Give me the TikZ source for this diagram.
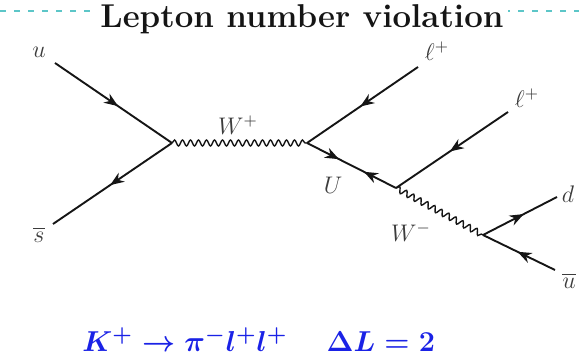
\documentclass[tikz,border=0pt]{standalone}
\usepackage{tikz}
\usepackage{xcolor}
\usepackage{amsmath}
\usetikzlibrary{
  arrows.meta, decorations.pathmorphing, decorations.markings
}
\definecolor{ink}{HTML}{151515}
\definecolor{muted}{HTML}{3C3C3C}
\definecolor{eqblue}{HTML}{1A22E6}
\definecolor{slide}{HTML}{5CC6C8}
\tikzset{
  >={Stealth[length=7pt, width=5.4pt]},
  %
  fermion/.style={
    draw=ink, line width=0.95pt, postaction={decorate},
    decoration={markings, mark=at position #1 with {\arrow{>}}},
  },
  fermion/.default=0.55,
  majorana/.style={
    draw=ink, line width=0.95pt, postaction={decorate},
    decoration={markings,
      mark=at position 0.36 with {\arrow{>}},
      mark=at position 0.64 with {\arrowreversed{>}}},
  },
  boson/.style={
    draw=ink, line width=0.7pt, decorate,
    decoration={snake, amplitude=1.5pt, segment length=4pt},
  },
  %
  lbl/.style={font=\fontsize{12}{14}\selectfont, text=muted, inner sep=1pt},
  heading/.style={font=\fontsize{16.5}{19}\selectfont\bfseries, text=ink,
                  fill=white, inner sep=2pt},
  eqn/.style={font=\fontsize{15}{18}\selectfont\boldmath, text=eqblue,
              inner sep=0pt},
  slideline/.style={draw=slide, line width=0.7pt, dash pattern=on 3pt off 4pt},
}

\begin{document}
\begin{tikzpicture}[x=0.5pt, y=-0.5pt]
\useasboundingbox (0,0) rectangle (579,357);

% =========================================================================
% header
% =========================================================================
\draw[slideline] (0,11) -- (579,11);
\node[heading, anchor=base] (title) at (302,28) {Lepton number violation};

% =========================================================================
% vertices and external legs
% =========================================================================
\coordinate (v1) at (172,143);
\coordinate (v2) at (307,143);
\coordinate (v3) at (396,188);
\coordinate (v4) at (483,235);

\coordinate (uin)  at (55,63);
\coordinate (sbar) at (53,224);
\coordinate (la)   at (418,67);
\coordinate (lb)   at (508,112);
\coordinate (dout) at (557,197);
\coordinate (ubar) at (555,270);

% quark lines
\draw[fermion=0.54] (uin) -- (v1);
\draw[fermion=0.52] (v1) -- (sbar);

% W bosons
\draw[boson] (v1) -- (v2);
\draw[boson] (v3) -- (v4);

% leptons and the neutrino-like line
\draw[fermion=0.52] (la) -- (v2);
\draw[majorana] (v2) -- (v3);
\draw[fermion=0.52] (lb) -- (v3);

% outgoing quarks
\draw[fermion=0.55] (v4) -- (dout);
\draw[fermion=0.52] (ubar) -- (v4);

% labels
\node[lbl] (ulbl)  at (39,52)   {$u$};
\node[lbl] (slbl)  at (39,235)  {$\overline{s}$};
\node[lbl] (wplbl) at (238,125) {$W^{+}$};
\node[lbl] (lalbl) at (437,51)  {$\ell^{+}$};
\node[lbl] (Ulbl)  at (333,185) {$U$};
\node[lbl] (lblbl) at (527,98)  {$\ell^{+}$};
\node[lbl] (dlbl)  at (568,194) {$d$};
\node[lbl] (wmlbl) at (411,232) {$W^{-}$};
\node[lbl] (ublbl) at (569,281) {$\overline{u}$};

% =========================================================================
% process
% =========================================================================
\node[eqn, anchor=base west] (proc) at (82,352)
  {$K^{+}\rightarrow\pi^{-}l^{+}l^{+}\hspace{1.3em}\Delta L=2$};

\end{tikzpicture}
\end{document}
